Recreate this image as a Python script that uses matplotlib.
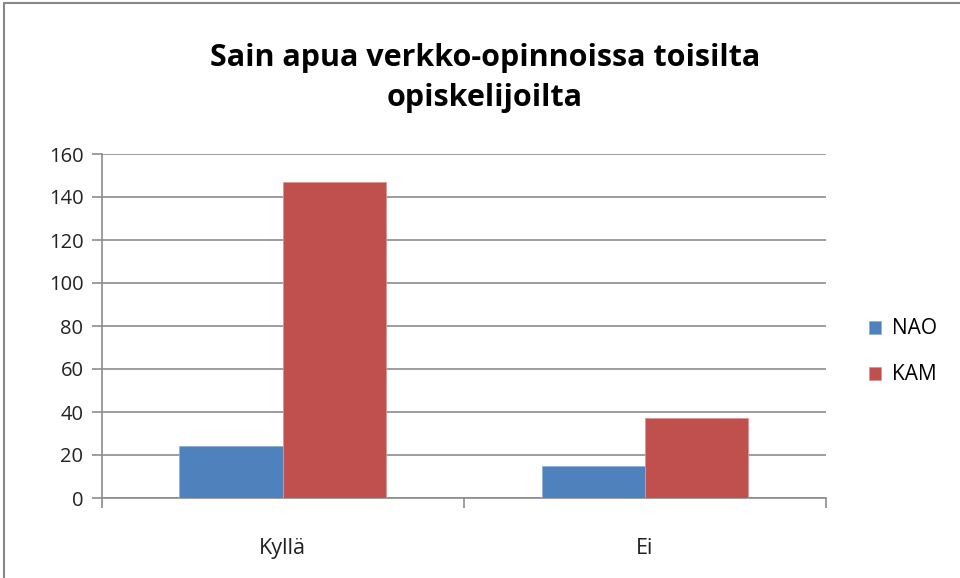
import matplotlib
matplotlib.use("Agg")
import matplotlib.pyplot as plt
import numpy as np
from matplotlib.patches import Rectangle

categories = ["Kyllä", "Ei"]
series_names = ["NAO", "KAM"]
nao = [24, 15]
kam = [147, 37]
yticks = [0, 20, 40, 60, 80, 100, 120, 140, 160]
title = "Sain apua verkko-opinnoissa toisilta\nopiskelijoilta"

plt.rcParams['font.family'] = ['Open Sans', 'DejaVu Sans']

W, H = 960, 578
fig = plt.figure(figsize=(W/100, H/100), dpi=100)
fig.patch.set_facecolor("white")

# outer chart border
fig.add_artist(Rectangle((4/W, -0.1), 1.2, 1 - 3/H + 0.1, transform=fig.transFigure,
                         fill=False, edgecolor="#888888", linewidth=1.5))

left, right, top, bottom = 101.5, 826, 154, 498
ax = fig.add_axes([left/W, 1 - bottom/H, (right-left)/W, (bottom-top)/H])

x = np.arange(len(categories))
w = 0.285
ax.bar(x - w/2, nao, width=w, color="#4F81BD", edgecolor="#8fb0d8", linewidth=0.6,
       label=series_names[0], zorder=3)
ax.bar(x + w/2, kam, width=w, color="#C0504D", edgecolor="#dc9593", linewidth=0.6,
       label=series_names[1], zorder=3)

ax.set_xlim(-0.5, len(categories) - 0.5)
ax.set_ylim(0, 160)
ax.set_yticks(yticks)
ax.set_yticklabels([str(v) for v in yticks], fontsize=14.5, color="#222222")
ax.yaxis.grid(True, color="#8c8c8c", linewidth=1.2, zorder=0)
ax.set_axisbelow(True)

ax.set_xticks(x)
ax.set_xticklabels(categories, fontsize=15.5, color="#222222")
ax.set_xticks([-0.5, 0.5, 1.5], minor=True)
ax.tick_params(axis='x', which='major', length=0, pad=29)
ax.tick_params(axis='x', which='minor', length=7, color="#8c8c8c", width=1.2)
ax.tick_params(axis='y', length=7, color="#8c8c8c", width=1.2, pad=6)

for s in ["top", "right"]:
    ax.spines[s].set_visible(False)
ax.spines["left"].set_color("#8c8c8c")
ax.spines["left"].set_linewidth(1.2)
ax.spines["bottom"].set_color("#8c8c8c")
ax.spines["bottom"].set_linewidth(1.2)

fig.text(485/W, 1 - 78/H, title, ha="center", va="center", fontsize=22,
         fontweight="bold", linespacing=1.4, color="black")

leg = fig.legend(loc="center left", bbox_to_anchor=(850/W, 1 - 352/H), frameon=False,
                 fontsize=15, handlelength=0.6, handleheight=0.6, handletextpad=0.5,
                 labelspacing=1.2)

fig.savefig("out.png", dpi=100)
